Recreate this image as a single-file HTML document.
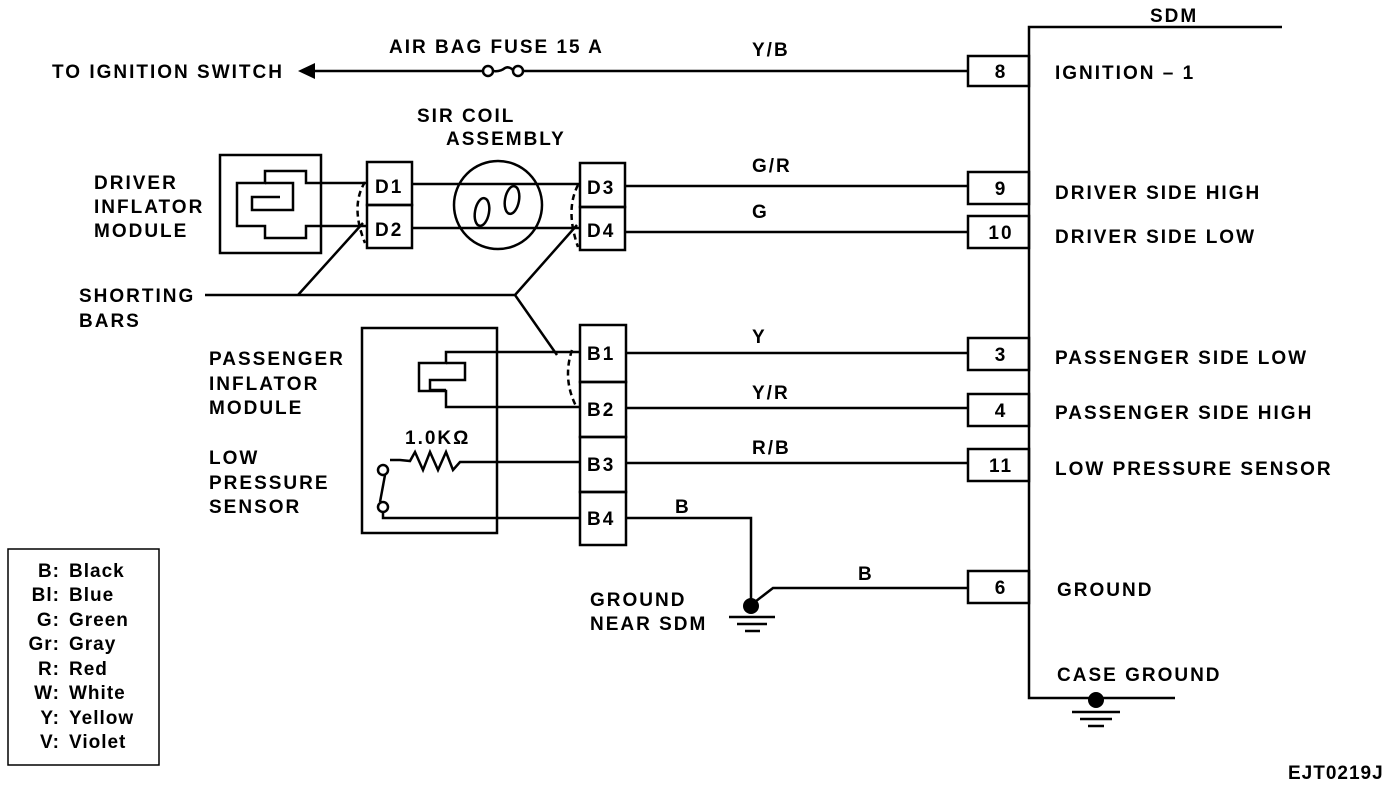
<!DOCTYPE html>
<html><head><meta charset="utf-8"><style>
html,body{margin:0;padding:0;background:#fff}
svg{display:block}
text{font-family:"Liberation Sans",Arial,sans-serif;font-weight:bold;font-size:19px;fill:#000;letter-spacing:2px}
.lg{letter-spacing:1px}
</style></head><body>
<svg width="1392" height="786" viewBox="0 0 1392 786" xmlns="http://www.w3.org/2000/svg">
<g stroke="#000" stroke-width="2.5" fill="none">
<path d="M1282,27 H1029 V698 H1175"/>
<rect x="968" y="56" width="61" height="30"/>
<rect x="968" y="172" width="61" height="32"/>
<rect x="968" y="216" width="61" height="32"/>
<rect x="968" y="338" width="61" height="32"/>
<rect x="968" y="394" width="61" height="32"/>
<rect x="968" y="449" width="61" height="32"/>
<rect x="968" y="571" width="61" height="32"/>
<path d="M308,71 H483"/>
<path d="M523,71 H968"/>
<circle cx="488" cy="71" r="5" fill="#fff"/>
<circle cx="518" cy="71" r="5" fill="#fff"/>
<path d="M493,71 Q500,72 505,68 Q509,66 513,70"/>
<rect x="220" y="155" width="101" height="98"/>
<path d="M321,183 H306 V171 H265 V183 H237 V226 H265 V238 H306 V226 H321"/>
<path d="M265,183 H293 V210 H252 V197 H280"/>
<path d="M321,183 H367 M321,226 H367"/>
<rect x="367" y="162" width="45" height="43"/>
<rect x="367" y="205" width="45" height="43"/>
<rect x="580" y="163" width="45" height="44"/>
<rect x="580" y="207" width="45" height="43"/>
<path d="M412,184 H580 M412,228 H580"/>
<circle cx="498" cy="205" r="44"/>
<ellipse cx="482" cy="212" rx="7" ry="14" transform="rotate(10 482 212)"/>
<ellipse cx="512" cy="200" rx="7" ry="14" transform="rotate(10 512 200)"/>
<path d="M625,186 H968 M625,232 H968"/>
<path d="M205,295 H515 M298,295 L363,223 M515,295 L577,225 M515,295 L557,355"/>
<path d="M365,182 Q350,206 365,243" stroke-dasharray="6,4"/>
<path d="M578,185 Q565,210 578,247" stroke-dasharray="6,4"/>
<path d="M572,350 Q562,380 577,408" stroke-dasharray="6,4"/>
<rect x="362" y="328" width="135" height="205"/>
<path d="M580,352 H446 V363 H419 V391 H446 V407 H580"/>
<path d="M446,363 H465 V380 H430 V390 H446"/>
<rect x="580" y="325" width="46" height="57"/>
<rect x="580" y="382" width="46" height="55"/>
<rect x="580" y="437" width="46" height="55"/>
<rect x="580" y="492" width="46" height="53"/>
<path d="M626,353 H968 M626,408 H968 M626,463 H968"/>
<path d="M390,460 L400,460 L410,461 L415,452 L423,470 L430,452 L438,470 L446,452 L453,470 L460,462 H580"/>
<circle cx="383" cy="470" r="5" fill="#fff"/>
<circle cx="383" cy="507" r="5" fill="#fff"/>
<path d="M385,475 L380,502"/>
<path d="M383,512 V518 H580"/>
<path d="M626,518 H751 V605"/>
<path d="M751,605 L773,588 H968"/>
<path d="M729,617 H775 M737,624 H767 M745,631 H760"/>
<path d="M1072,712 H1120 M1080,719 H1112 M1088,726 H1104"/>
<rect x="8" y="549" width="151" height="216" stroke-width="1.5"/>
</g>
<circle cx="751" cy="606" r="8"/>
<circle cx="1096" cy="700" r="8"/>
<path d="M298,71 L315,63 L315,79 Z"/>
<text x="52" y="78">TO IGNITION SWITCH</text>
<text x="389" y="53">AIR BAG  FUSE 15 A</text>
<text x="752" y="56">Y/B</text>
<text x="1150" y="22">SDM</text>
<text x="417" y="122">SIR COIL</text>
<text x="446" y="145">ASSEMBLY</text>
<text x="94" y="189">DRIVER</text>
<text x="94" y="213">INFLATOR</text>
<text x="94" y="237">MODULE</text>
<text x="79" y="302">SHORTING</text>
<text x="79" y="327">BARS</text>
<text x="209" y="365">PASSENGER</text>
<text x="209" y="390">INFLATOR</text>
<text x="209" y="414">MODULE</text>
<text x="209" y="464">LOW</text>
<text x="209" y="489">PRESSURE</text>
<text x="209" y="513">SENSOR</text>
<text x="405" y="444">1.0KΩ</text>
<g font-size="18">
<text x="375" y="193">D1</text>
<text x="375" y="236">D2</text>
<text x="587" y="194">D3</text>
<text x="587" y="237">D4</text>
<text x="587" y="360">B1</text>
<text x="587" y="416">B2</text>
<text x="587" y="471">B3</text>
<text x="587" y="525">B4</text>
</g>
<text x="752" y="172">G/R</text>
<text x="752" y="218">G</text>
<text x="752" y="343">Y</text>
<text x="752" y="399">Y/R</text>
<text x="752" y="454">R/B</text>
<text x="675" y="513">B</text>
<text x="858" y="580">B</text>
<text x="590" y="606">GROUND</text>
<text x="590" y="630">NEAR SDM</text>
<g text-anchor="middle" font-size="18">
<text x="1001" y="78">8</text>
<text x="1001" y="195">9</text>
<text x="1001" y="239">10</text>
<text x="1001" y="361">3</text>
<text x="1001" y="417">4</text>
<text x="1001" y="472">11</text>
<text x="1001" y="594">6</text>
</g>
<text x="1055" y="79">IGNITION – 1</text>
<text x="1055" y="199">DRIVER SIDE HIGH</text>
<text x="1055" y="243">DRIVER SIDE LOW</text>
<text x="1055" y="364">PASSENGER SIDE LOW</text>
<text x="1055" y="419">PASSENGER SIDE HIGH</text>
<text x="1055" y="475">LOW PRESSURE SENSOR</text>
<text x="1057" y="596">GROUND</text>
<text x="1057" y="681">CASE GROUND</text>
<g text-anchor="end" class="lg">
<text class="lg" x="60" y="577">B:</text>
<text class="lg" x="60" y="601">Bl:</text>
<text class="lg" x="60" y="626">G:</text>
<text class="lg" x="60" y="650">Gr:</text>
<text class="lg" x="60" y="675">R:</text>
<text class="lg" x="60" y="699">W:</text>
<text class="lg" x="60" y="724">Y:</text>
<text class="lg" x="60" y="748">V:</text>
</g>
<text class="lg" x="69" y="577">Black</text>
<text class="lg" x="69" y="601">Blue</text>
<text class="lg" x="69" y="626">Green</text>
<text class="lg" x="69" y="650">Gray</text>
<text class="lg" x="69" y="675">Red</text>
<text class="lg" x="69" y="699">White</text>
<text class="lg" x="69" y="724">Yellow</text>
<text class="lg" x="69" y="748">Violet</text>
<text class="lg" x="1288" y="779" font-size="15">EJT0219J</text>
</svg>
</body></html>
